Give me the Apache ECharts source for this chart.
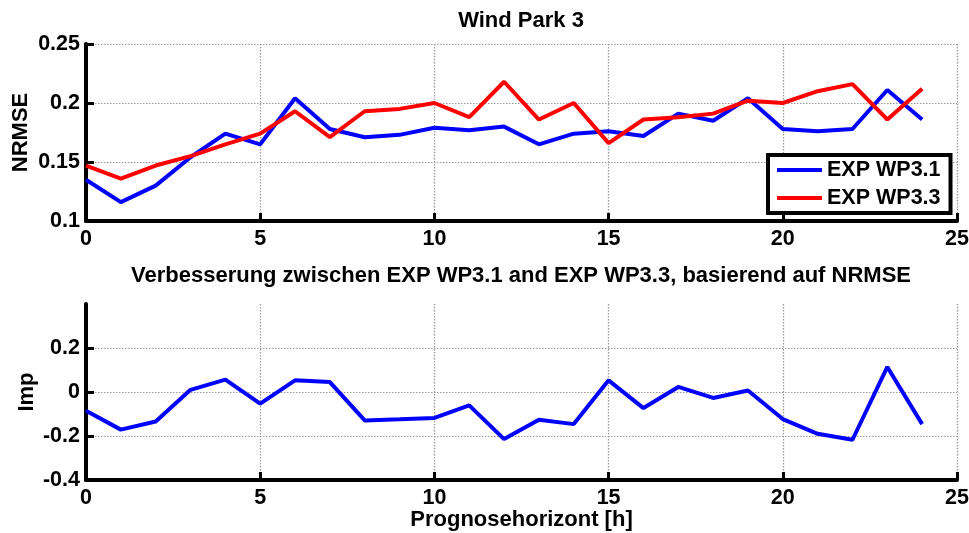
<!DOCTYPE html>
<html>
<head>
<meta charset="utf-8">
<script src="https://cdn.jsdelivr.net/npm/echarts@6/dist/echarts.min.js"></script>
<style>
html,body{margin:0;padding:0;background:#fff;}
#chart{width:969px;height:533px;}
</style>
</head>
<body>
<div id="chart"></div>
<script>
const hours = [0,1,2,3,4,5,6,7,8,9,10,11,12,13,14,15,16,17,18,19,20,21,22,23,24];
const wp31 = [0.135,0.116,0.130,0.154,0.174,0.165,0.204,0.178,0.171,0.173,0.179,0.177,0.180,0.165,0.174,0.176,0.172,0.191,0.185,0.204,0.178,0.176,0.178,0.211,0.186];
const wp33 = [0.147,0.136,0.147,0.155,0.165,0.174,0.193,0.171,0.193,0.195,0.200,0.188,0.218,0.186,0.200,0.166,0.186,0.188,0.191,0.202,0.200,0.210,0.216,0.186,0.212];
const imp = [-0.085,-0.171,-0.134,0.010,0.056,-0.053,0.053,0.045,-0.129,-0.124,-0.118,-0.061,-0.214,-0.126,-0.146,0.053,-0.073,0.023,-0.027,0.007,-0.123,-0.190,-0.217,0.114,-0.146];
const xTicks = [0,5,10,15,20,25];
const yTicksTop = [0.1,0.15,0.2,0.25];
const yTicksBottom = [-0.4,-0.2,0,0.2];

const FONT = 'Liberation Sans, Arial, sans-serif';
const pairs = (ys) => hours.map((h,i)=>[h, ys[i]]);
const gridLine = {show:true, lineStyle:{color:'#9a9a9a', width:1.2, type:[1.5,1.5]}};
const axisLineS = {show:true, onZero:false, lineStyle:{color:'#000', width:4}};
const tickS = {show:true, inside:true, length:8, lineStyle:{color:'#000', width:3}};
const labelS = {color:'#000', fontSize:21.5, fontWeight:'bold', fontFamily:FONT};
const nameS = {fontSize:22, fontWeight:'bold', color:'#000', fontFamily:FONT};

const chart = echarts.init(document.getElementById('chart'), null, {renderer:'canvas'});
chart.setOption({
  animation:false,
  backgroundColor:'#fff',
  title:[
    {text:'Wind Park 3', left:521, top:10, textAlign:'center', padding:0, textStyle:nameS},
    {text:'Verbesserung zwischen EXP WP3.1 and EXP WP3.3, basierend auf NRMSE', left:521, top:265, textAlign:'center', padding:0, textStyle:nameS}
  ],
  legend:{
    data:['EXP WP3.1','EXP WP3.3'],
    orient:'vertical', left:768, top:155,
    icon:'rect',
    padding:[4,10,4,9], itemGap:6, itemWidth:45, itemHeight:4,
    borderColor:'#000', borderWidth:4, backgroundColor:'#fff',
    textStyle:{fontSize:21.5, fontWeight:'bold', color:'#000', fontFamily:FONT}
  },
  grid:[
    {left:86, top:44, width:871, height:177, containLabel:false, outerBoundsMode:'none'},
    {left:86, top:304, width:871, height:176, containLabel:false, outerBoundsMode:'none'}
  ],
  xAxis:[
    {type:'value', gridIndex:0, min:0, max:25, interval:5,
     axisLine:axisLineS, axisTick:tickS, splitLine:gridLine,
     axisLabel:Object.assign({margin:7, customValues:xTicks}, labelS)},
    {type:'value', gridIndex:1, min:0, max:25, interval:5,
     axisLine:axisLineS, axisTick:tickS, splitLine:gridLine,
     axisLabel:Object.assign({margin:7, customValues:xTicks}, labelS),
     name:'Prognosehorizont [h]', nameLocation:'middle', nameGap:29, nameMoveOverlap:false, nameTextStyle:nameS}
  ],
  yAxis:[
    {type:'value', gridIndex:0, min:0.1, max:0.25, interval:0.05,
     axisLine:axisLineS, axisTick:tickS, splitLine:gridLine,
     axisLabel:Object.assign({margin:6, customValues:yTicksTop}, labelS),
     name:'NRMSE', nameLocation:'middle', nameGap:54, nameMoveOverlap:false, nameTextStyle:nameS},
    {type:'value', gridIndex:1, min:-0.4, max:0.4, interval:0.2,
     axisLine:axisLineS,
     axisTick:Object.assign({customValues:yTicksBottom}, tickS),
     splitLine:gridLine,
     axisLabel:Object.assign({margin:6, customValues:yTicksBottom}, labelS),
     name:'Imp', nameLocation:'middle', nameGap:48, nameMoveOverlap:false, nameTextStyle:nameS}
  ],
  series:[
    {name:'EXP WP3.1', type:'line', xAxisIndex:0, yAxisIndex:0, data:pairs(wp31),
     symbol:'none', lineStyle:{color:'#0000ff', width:4}, itemStyle:{color:'#0000ff'}, z:3},
    {name:'EXP WP3.3', type:'line', xAxisIndex:0, yAxisIndex:0, data:pairs(wp33),
     symbol:'none', lineStyle:{color:'#ff0000', width:4}, itemStyle:{color:'#ff0000'}, z:4},
    {name:'Imp', type:'line', xAxisIndex:1, yAxisIndex:1, data:pairs(imp),
     symbol:'none', lineStyle:{color:'#0000ff', width:4}, itemStyle:{color:'#0000ff'}, z:3}
  ]
});
</script>
</body>
</html>
